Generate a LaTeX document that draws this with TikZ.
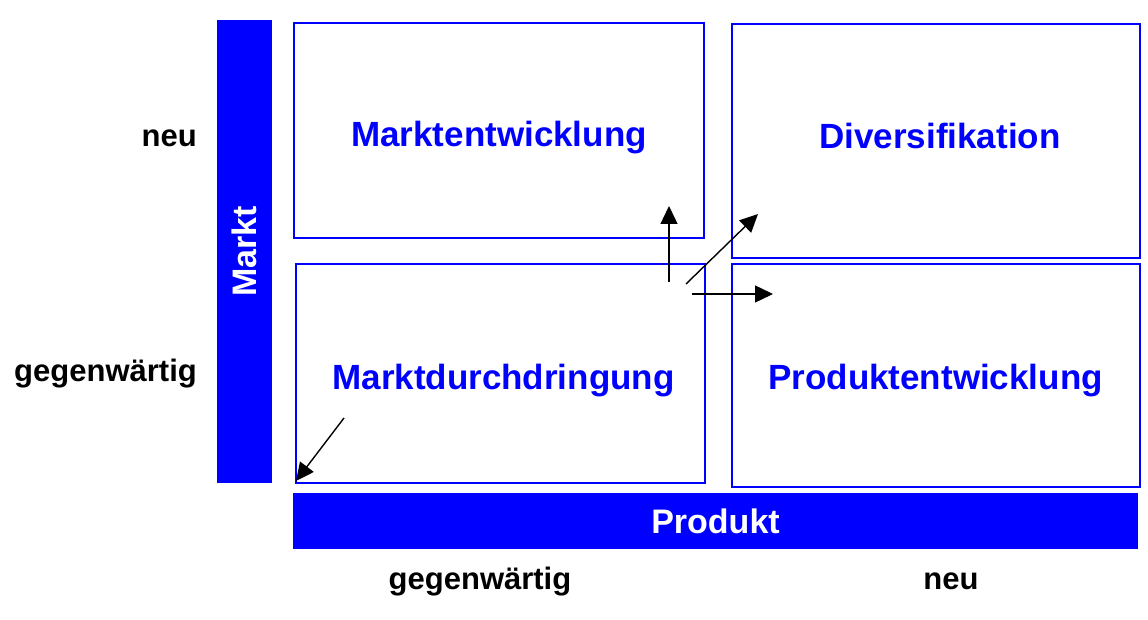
\documentclass[tikz,border=0pt]{standalone}
\usepackage{fontspec}
\setmainfont{Liberation Sans}
\usetikzlibrary{arrows.meta}

\begin{document}
\begin{tikzpicture}[
    x=1pt, y=-1pt,
    field/.style={draw=blue, line width=1.2pt, inner sep=0pt},
    fieldtext/.style={anchor=base, inner sep=0pt, text=blue,
                 font=\fontsize{35}{41}\selectfont\bfseries},
    bar/.style={fill=blue, inner sep=0pt, text=white,
                font=\fontsize{34}{40}\selectfont\bfseries},
    lab/.style={anchor=base east, inner sep=0pt,
                font=\fontsize{31}{37}\selectfont\bfseries},
    arr/.style={-{Triangle[length=18pt, width=17pt]}, line width=1.4pt}
  ]
  \useasboundingbox (0,0) rectangle (1148,620);
  % Four fields
  \node[field, minimum width=410pt, minimum height=215pt] (MEbox) at (499,130.5) {};
  \node[field, minimum width=408pt, minimum height=234pt] (DIbox) at (936,141) {};
  \node[field, minimum width=409pt, minimum height=219pt] (MDbox) at (500.5,373.5) {};
  \node[field, minimum width=408pt, minimum height=223pt] (PEbox) at (936,375.5) {};
  % Field names
  \node[fieldtext] (ME) at (499,147) {Marktentwicklung};
  \node[fieldtext] (DI) at (940,149) {Diversifikation};
  \node[fieldtext] (MD) at (503.5,389) {Marktdurchdringung};
  \node[fieldtext] (PE) at (935.5,389) {Produktentwicklung};
  % Axis bars
  \node[bar, rotate=90, minimum width=463pt, minimum height=55pt] (markt) at (244.5,251.5) {Markt};
  \node[bar, minimum width=845pt, minimum height=56pt] (produkt) at (715.5,521) {Produkt};
  % Axis labels
  \node[lab] (mneu) at (197,147) {neu};
  \node[lab] (mgeg) at (197,381) {gegenwärtig};
  \node[lab, anchor=base] (pgeg) at (480,589) {gegenwärtig};
  \node[lab, anchor=base] (pneu) at (951,589) {neu};
  % Arrows
  \coordinate (up0) at (669,282);   \coordinate (up1) at (669,206);
  \coordinate (dg0) at (686,284);   \coordinate (dg1) at (758,214);
  \coordinate (rt0) at (692,294);   \coordinate (rt1) at (773,294);
  \coordinate (bl0) at (344,418);   \coordinate (bl1) at (296,481);
  \draw[arr] (up0) -- (up1);
  \draw[arr] (dg0) -- (dg1);
  \draw[arr] (rt0) -- (rt1);
  \draw[arr] (bl0) -- (bl1);
\end{tikzpicture}
\end{document}
